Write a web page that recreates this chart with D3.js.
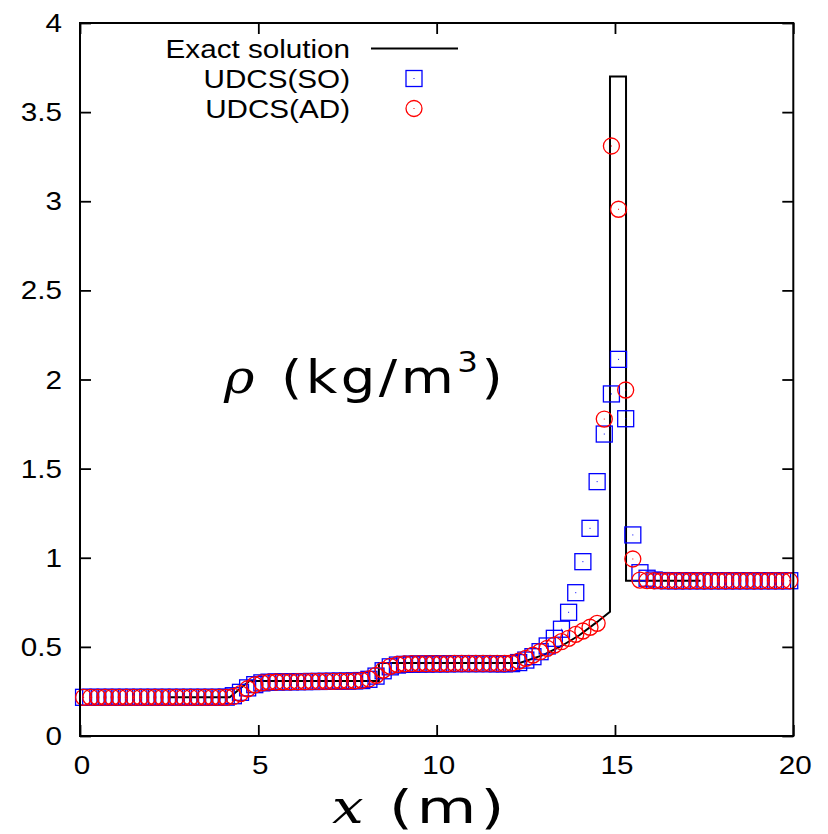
<!DOCTYPE html>
<html>
<head>
<meta charset="utf-8">
<script src="https://cdn.jsdelivr.net/npm/d3@7"></script>
<style>
  html, body { margin: 0; padding: 0; background: #fff; }
  svg { display: block; }
</style>
</head>
<body>
<svg id="chart" width="828" height="834"></svg>
<script>
// Density profile of the Riemann problem: exact solution vs. two UDCS variants.

// Cell centres (m)
const cellX = [
  0.1, 0.3, 0.5, 0.7, 0.9, 1.1, 1.3, 1.5, 1.7, 1.9,
  2.1, 2.3, 2.5, 2.7, 2.9, 3.1, 3.3, 3.5, 3.7, 3.9,
  4.1, 4.3, 4.5, 4.7, 4.9, 5.1, 5.3, 5.5, 5.7, 5.9,
  6.1, 6.3, 6.5, 6.7, 6.9, 7.1, 7.3, 7.5, 7.7, 7.9,
  8.1, 8.3, 8.5, 8.7, 8.9, 9.1, 9.3, 9.5, 9.7, 9.9,
  10.1, 10.3, 10.5, 10.7, 10.9, 11.1, 11.3, 11.5, 11.7, 11.9,
  12.1, 12.3, 12.5, 12.7, 12.9, 13.1, 13.3, 13.5, 13.7, 13.9,
  14.1, 14.3, 14.5, 14.7, 14.9, 15.1, 15.3, 15.5, 15.7, 15.9,
  16.1, 16.3, 16.5, 16.7, 16.9, 17.1, 17.3, 17.5, 17.7, 17.9,
  18.1, 18.3, 18.5, 18.7, 18.9, 19.1, 19.3, 19.5, 19.7, 19.9
];

// UDCS(SO) density (kg/m^3)
const rhoSO = [
  0.217, 0.217, 0.217, 0.217, 0.217, 0.217, 0.217, 0.217, 0.217, 0.217,
  0.217, 0.217, 0.217, 0.217, 0.217, 0.217, 0.217, 0.217, 0.217, 0.217,
  0.218, 0.226, 0.245, 0.270, 0.288, 0.298, 0.302, 0.303, 0.304, 0.304,
  0.305, 0.305, 0.306, 0.306, 0.307, 0.307, 0.308, 0.308, 0.309, 0.311,
  0.318, 0.336, 0.366, 0.388, 0.398, 0.402, 0.403, 0.404, 0.404, 0.405,
  0.405, 0.405, 0.406, 0.406, 0.406, 0.406, 0.406, 0.406, 0.405, 0.405,
  0.406, 0.412, 0.426, 0.445, 0.473, 0.505, 0.548, 0.599, 0.694, 0.804,
  0.978, 1.165, 1.427, 1.694, 1.919, 2.113, 1.780, 1.128, 0.916, 0.885,
  0.875, 0.872, 0.871, 0.871, 0.871, 0.871, 0.871, 0.871, 0.871, 0.871,
  0.871, 0.871, 0.871, 0.871, 0.871, 0.871, 0.871, 0.871, 0.871, 0.871
];

// UDCS(AD) density (kg/m^3)
const rhoAD = [
  0.217, 0.217, 0.217, 0.217, 0.217, 0.217, 0.217, 0.217, 0.217, 0.217,
  0.217, 0.217, 0.217, 0.217, 0.217, 0.217, 0.217, 0.217, 0.217, 0.217,
  0.217, 0.222, 0.238, 0.265, 0.287, 0.298, 0.302, 0.303, 0.304, 0.304,
  0.305, 0.305, 0.306, 0.306, 0.307, 0.307, 0.308, 0.308, 0.309, 0.312,
  0.320, 0.340, 0.370, 0.391, 0.401, 0.405, 0.406, 0.406, 0.406, 0.406,
  0.406, 0.406, 0.407, 0.407, 0.407, 0.407, 0.407, 0.407, 0.407, 0.407,
  0.409, 0.420, 0.436, 0.454, 0.473, 0.492, 0.510, 0.529, 0.548, 0.570,
  0.589, 0.610, 0.632, 1.778, 3.310, 2.955, 1.941, 0.993, 0.875, 0.872,
  0.871, 0.871, 0.871, 0.871, 0.871, 0.871, 0.871, 0.871, 0.871, 0.871,
  0.871, 0.871, 0.871, 0.871, 0.871, 0.871, 0.871, 0.871, 0.871, 0.871
];

// Exact solution polyline
const exactX = [2.5, 4.2, 4.45, 4.75, 8.38, 8.38, 12.33, 13.0, 13.5, 14.0, 14.5, 14.86, 14.86, 15.31, 15.31, 17.4];
const exactY = [0.217, 0.217, 0.26, 0.309, 0.309, 0.41, 0.41, 0.455, 0.505, 0.565, 0.64, 0.697, 3.70, 3.70, 0.871, 0.871];

// Axes
const xTicks = [0, 5, 10, 15, 20];
const xTickLabels = ["0", "5", "10", "15", "20"];
const yTicks = [0, 0.5, 1, 1.5, 2, 2.5, 3, 3.5, 4];
const yTickLabels = ["0", "0.5", "1", "1.5", "2", "2.5", "3", "3.5", "4"];

// Legend
const seriesNames = ["Exact solution", "UDCS(SO)", "UDCS(AD)"];

const svg = d3.select("#chart");
const plotLeft = 80, plotRight = 793.3, plotTop = 23, plotBottom = 736;

const x = d3.scaleLinear().domain([0, 20]).range([plotLeft, plotRight]);
const y = d3.scaleLinear().domain([0, 4]).range([plotBottom, plotTop]);

const sansFont = "'Liberation Sans', Arial, Helvetica, sans-serif";
const titleFont = "'DejaVu Sans', sans-serif";
const mathFont = "'DejaVu Serif', serif";
const stretch = 1.14;
const tickFontSize = 26;

// ticks pointing inward on all four sides
const tickLen = 11;
svg.append("g").attr("transform", `translate(0,${plotBottom})`)
  .call(d3.axisBottom(x).tickValues(xTicks).tickSize(-tickLen).tickFormat(""));
svg.append("g").attr("transform", `translate(0,${plotTop})`)
  .call(d3.axisTop(x).tickValues(xTicks).tickSize(-tickLen).tickFormat(""));
svg.append("g").attr("transform", `translate(${plotLeft},0)`)
  .call(d3.axisLeft(y).tickValues(yTicks).tickSize(-tickLen).tickFormat(""));
svg.append("g").attr("transform", `translate(${plotRight},0)`)
  .call(d3.axisRight(y).tickValues(yTicks).tickSize(-tickLen).tickFormat(""));
svg.selectAll(".domain").remove();
svg.selectAll(".tick line").attr("stroke", "#000").attr("stroke-width", 1.8);

// tick labels
svg.append("g").selectAll("text").data(xTicks).join("text")
  .attr("transform", d => `translate(${x(d) + 2},774) scale(${stretch},1)`)
  .attr("text-anchor", "middle")
  .style("font-family", sansFont).style("font-size", tickFontSize + "px")
  .text((d, i) => xTickLabels[i]);

svg.append("g").selectAll("text").data(yTicks).join("text")
  .attr("transform", d => `translate(62,${y(d) + 9}) scale(${stretch},1)`)
  .attr("text-anchor", "end")
  .style("font-family", sansFont).style("font-size", tickFontSize + "px")
  .text((d, i) => yTickLabels[i]);

// exact solution
const exactPts = exactX.map((v, i) => [v, exactY[i]]);
svg.append("path")
  .datum(exactPts)
  .attr("d", d3.line().x(d => x(d[0])).y(d => y(d[1])))
  .attr("fill", "none").attr("stroke", "#000").attr("stroke-width", 2)
  .attr("stroke-linejoin", "miter");

const half = 8;
function squareMarker(g, cx, cy) {
  g.append("rect").attr("x", cx - half).attr("y", cy - half)
    .attr("width", 2 * half).attr("height", 2 * half)
    .attr("fill", "none").attr("stroke", "#0000ff").attr("stroke-width", 1.3);
  g.append("rect").attr("x", cx - 0.5).attr("y", cy - 0.5)
    .attr("width", 1).attr("height", 1).attr("fill", "#0000ff");
}
function circleMarker(g, cx, cy) {
  g.append("circle").attr("cx", cx).attr("cy", cy).attr("r", half)
    .attr("fill", "none").attr("stroke", "#ff0000").attr("stroke-width", 1.3);
  g.append("rect").attr("x", cx - 0.5).attr("y", cy - 0.5)
    .attr("width", 1).attr("height", 1).attr("fill", "#ff0000");
}

// UDCS(SO) squares
const gSO = svg.append("g");
cellX.forEach((v, i) => squareMarker(gSO, x(v), y(rhoSO[i])));
// UDCS(AD) circles
const gAD = svg.append("g");
cellX.forEach((v, i) => circleMarker(gAD, x(v), y(rhoAD[i])));

// frame
svg.append("rect")
  .attr("x", plotLeft).attr("y", plotTop)
  .attr("width", plotRight - plotLeft).attr("height", plotBottom - plotTop)
  .attr("fill", "none").attr("stroke", "#000").attr("stroke-width", 2);

// legend
const legendRows = [58, 88, 118];
const legend = svg.append("g");
legend.selectAll("text").data(seriesNames).join("text")
  .attr("transform", (d, i) => `translate(350,${legendRows[i]}) scale(${stretch},1)`)
  .attr("text-anchor", "end")
  .style("font-family", sansFont).style("font-size", tickFontSize + "px")
  .text(d => d);
legend.append("line")
  .attr("x1", 371).attr("x2", 458).attr("y1", legendRows[0] - 9.5).attr("y2", legendRows[0] - 9.5)
  .attr("stroke", "#000").attr("stroke-width", 2);
squareMarker(legend, 414, legendRows[1] - 9.5);
circleMarker(legend, 414, legendRows[2] - 9.5);

// horizontally stretched text block
function stretchedText(px, py, sx) {
  return svg.append("text")
    .attr("transform", `translate(${px},${py}) scale(${sx},1)`)
    .attr("fill", "#000");
}

// quantity label inside the plot: rho (kg/m^3)
stretchedText(224, 393, 1.1)
  .style("font-family", mathFont).style("font-size", "47px").style("font-style", "italic")
  .text("ρ");
const unitLabel = stretchedText(281, 393, 1.16)
  .style("font-family", titleFont).style("font-size", "47px").style("letter-spacing", "3px");
unitLabel.append("tspan").text("(kg/m");
unitLabel.append("tspan").attr("dy", -21).style("font-size", "28px").text("3");
unitLabel.append("tspan").attr("dy", 21).text(")");

// x-axis title: x (m)
stretchedText(332, 823, 1.22)
  .style("font-family", mathFont).style("font-size", "46px").style("font-style", "italic")
  .text("x");
stretchedText(389, 823, 1.33)
  .style("font-family", titleFont).style("font-size", "46px").style("letter-spacing", "3px")
  .text("(m)");
</script>
</body>
</html>
